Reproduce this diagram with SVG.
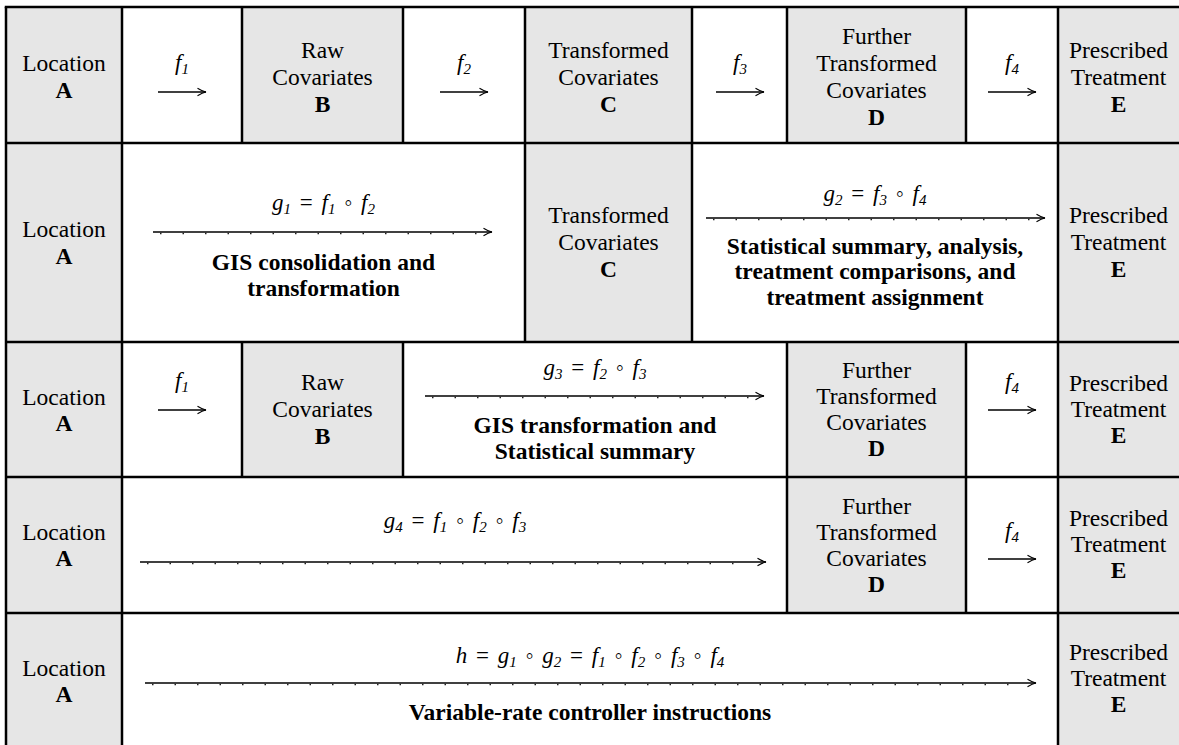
<svg xmlns="http://www.w3.org/2000/svg" width="1179" height="745" viewBox="0 0 1179 745">
<style>
.g{fill:#e6e6e6}
.w{fill:#fff}
.ln{stroke:#000;stroke-width:2.5;fill:none}
.t{font-family:'Liberation Serif','DejaVu Serif',serif;font-size:23.5px;text-anchor:middle;fill:#000}
.b{font-weight:bold}
.m{font-family:'Liberation Serif','DejaVu Serif',serif;font-size:23px;font-style:italic;text-anchor:middle;fill:#000;word-spacing:3px}
.s{font-size:15px}
.n{font-style:normal}
.ar{stroke:#000;stroke-width:1.3;fill:none;marker-end:url(#ah)}
.tk{stroke:#222;stroke-width:1.4;fill:none;stroke-dasharray:1.5 21}
</style>
<defs>
<marker id="ah" viewBox="0 0 10 10" refX="9.5" refY="5" markerWidth="10" markerHeight="10" markerUnits="userSpaceOnUse" orient="auto">
<path d="M1,1.2 Q6,4.3 9.5,5 Q6,5.7 1,8.8" fill="none" stroke="#000" stroke-width="1.1"/>
</marker>
</defs>
<rect x="0" y="0" width="1179" height="745" fill="#fff"/>

<!-- Row 1 -->
<g id="r1-A"><rect class="g" x="6" y="7" width="116" height="136"/><text class="t" x="64" y="71">Location</text><text class="t b" x="64" y="98">A</text></g>
<g id="r1-f1"><rect class="w" x="122" y="7" width="120" height="136"/></g>
<g id="r1-B"><rect class="g" x="242" y="7" width="161" height="136"/><text class="t" x="322.5" y="58">Raw</text><text class="t" x="322.5" y="85">Covariates</text><text class="t b" x="322.5" y="112">B</text></g>
<g id="r1-f2"><rect class="w" x="403" y="7" width="122" height="136"/></g>
<g id="r1-C"><rect class="g" x="525" y="7" width="167" height="136"/><text class="t" x="608.5" y="58">Transformed</text><text class="t" x="608.5" y="85">Covariates</text><text class="t b" x="608.5" y="112">C</text></g>
<g id="r1-f3"><rect class="w" x="692" y="7" width="95" height="136"/></g>
<g id="r1-D"><rect class="g" x="787" y="7" width="179" height="136"/><text class="t" x="876.5" y="44">Further</text><text class="t" x="876.5" y="71">Transformed</text><text class="t" x="876.5" y="98">Covariates</text><text class="t b" x="876.5" y="125">D</text></g>
<g id="r1-f4"><rect class="w" x="966" y="7" width="92" height="136"/></g>
<g id="r1-E"><rect class="g" x="1058" y="7" width="121" height="136"/><text class="t" x="1118.5" y="58">Prescribed</text><text class="t" x="1118.5" y="85">Treatment</text><text class="t b" x="1118.5" y="112">E</text></g>

<!-- Row 2 -->
<g id="r2-A"><rect class="g" x="6" y="143" width="116" height="199"/><text class="t" x="64" y="237">Location</text><text class="t b" x="64" y="264">A</text></g>
<g id="r2-g1"><rect class="w" x="122" y="143" width="403" height="199"/><text class="t b" x="323.5" y="270">GIS consolidation and</text><text class="t b" x="323.5" y="296">transformation</text></g>
<g id="r2-C"><rect class="g" x="525" y="143" width="167" height="199"/><text class="t" x="608.5" y="223">Transformed</text><text class="t" x="608.5" y="250">Covariates</text><text class="t b" x="608.5" y="277">C</text></g>
<g id="r2-g2"><rect class="w" x="692" y="143" width="366" height="199"/><text class="t b" x="875" y="254">Statistical summary, analysis,</text><text class="t b" x="875" y="279">treatment comparisons, and</text><text class="t b" x="875" y="305">treatment assignment</text></g>
<g id="r2-E"><rect class="g" x="1058" y="143" width="121" height="199"/><text class="t" x="1118.5" y="223">Prescribed</text><text class="t" x="1118.5" y="250">Treatment</text><text class="t b" x="1118.5" y="277">E</text></g>

<!-- Row 3 -->
<g id="r3-A"><rect class="g" x="6" y="342" width="116" height="135"/><text class="t" x="64" y="405">Location</text><text class="t b" x="64" y="431">A</text></g>
<g id="r3-f1"><rect class="w" x="122" y="342" width="120" height="135"/></g>
<g id="r3-B"><rect class="g" x="242" y="342" width="161" height="135"/><text class="t" x="322.5" y="390">Raw</text><text class="t" x="322.5" y="417">Covariates</text><text class="t b" x="322.5" y="444">B</text></g>
<g id="r3-g3"><rect class="w" x="403" y="342" width="384" height="135"/><text class="t b" x="595" y="433">GIS transformation and</text><text class="t b" x="595" y="459">Statistical summary</text></g>
<g id="r3-D"><rect class="g" x="787" y="342" width="179" height="135"/><text class="t" x="876.5" y="378">Further</text><text class="t" x="876.5" y="404">Transformed</text><text class="t" x="876.5" y="430">Covariates</text><text class="t b" x="876.5" y="456">D</text></g>
<g id="r3-f4"><rect class="w" x="966" y="342" width="92" height="135"/></g>
<g id="r3-E"><rect class="g" x="1058" y="342" width="121" height="135"/><text class="t" x="1118.5" y="391">Prescribed</text><text class="t" x="1118.5" y="417">Treatment</text><text class="t b" x="1118.5" y="443">E</text></g>

<!-- Row 4 -->
<g id="r4-A"><rect class="g" x="6" y="477" width="116" height="136"/><text class="t" x="64" y="540">Location</text><text class="t b" x="64" y="566">A</text></g>
<g id="r4-g4"><rect class="w" x="122" y="477" width="665" height="136"/></g>
<g id="r4-D"><rect class="g" x="787" y="477" width="179" height="136"/><text class="t" x="876.5" y="514">Further</text><text class="t" x="876.5" y="540">Transformed</text><text class="t" x="876.5" y="566">Covariates</text><text class="t b" x="876.5" y="592">D</text></g>
<g id="r4-f4"><rect class="w" x="966" y="477" width="92" height="136"/></g>
<g id="r4-E"><rect class="g" x="1058" y="477" width="121" height="136"/><text class="t" x="1118.5" y="526">Prescribed</text><text class="t" x="1118.5" y="552">Treatment</text><text class="t b" x="1118.5" y="578">E</text></g>

<!-- Row 5 -->
<g id="r5-A"><rect class="g" x="6" y="613" width="116" height="132"/><text class="t" x="64" y="676">Location</text><text class="t b" x="64" y="702">A</text></g>
<g id="r5-h"><rect class="w" x="122" y="613" width="936" height="132"/><text class="t b" x="590" y="720">Variable-rate controller instructions</text></g>
<g id="r5-E"><rect class="g" x="1058" y="613" width="121" height="132"/><text class="t" x="1118.5" y="660">Prescribed</text><text class="t" x="1118.5" y="686">Treatment</text><text class="t b" x="1118.5" y="712">E</text></g>

<!-- grid -->
<g id="grid" class="ln">
<line x1="4.75" y1="7" x2="1179" y2="7"/>
<line x1="6" y1="143" x2="1179" y2="143"/>
<line x1="6" y1="342" x2="1179" y2="342"/>
<line x1="6" y1="477" x2="1179" y2="477"/>
<line x1="6" y1="613" x2="1179" y2="613"/>
<line x1="6" y1="7" x2="6" y2="745"/>
<line x1="122" y1="7" x2="122" y2="745"/>
<line x1="1058" y1="7" x2="1058" y2="745"/>
<line x1="242" y1="7" x2="242" y2="143"/>
<line x1="403" y1="7" x2="403" y2="143"/>
<line x1="242" y1="342" x2="242" y2="477"/>
<line x1="403" y1="342" x2="403" y2="477"/>
<line x1="525" y1="7" x2="525" y2="342"/>
<line x1="692" y1="7" x2="692" y2="342"/>
<line x1="787" y1="7" x2="787" y2="143"/>
<line x1="966" y1="7" x2="966" y2="143"/>
<line x1="787" y1="342" x2="787" y2="613"/>
<line x1="966" y1="342" x2="966" y2="613"/>
</g>

<!-- connectors -->
<g id="connectors">
<!-- short arrows -->
<line class="ar" x1="158" y1="92" x2="206" y2="92"/>
<text class="m" x="182" y="70">f<tspan class="s" dy="4">1</tspan></text>
<line class="ar" x1="440" y1="92" x2="488" y2="92"/>
<text class="m" x="464" y="70">f<tspan class="s" dy="4">2</tspan></text>
<line class="ar" x1="716" y1="92" x2="764" y2="92"/>
<text class="m" x="740" y="70">f<tspan class="s" dy="4">3</tspan></text>
<line class="ar" x1="988" y1="92" x2="1036" y2="92"/>
<text class="m" x="1012" y="70">f<tspan class="s" dy="4">4</tspan></text>

<line class="ar" x1="158" y1="410" x2="206" y2="410"/>
<text class="m" x="182" y="388">f<tspan class="s" dy="4">1</tspan></text>
<line class="ar" x1="988" y1="410" x2="1036" y2="410"/>
<text class="m" x="1012" y="389">f<tspan class="s" dy="4">4</tspan></text>
<line class="ar" x1="988" y1="559" x2="1036" y2="559"/>
<text class="m" x="1012" y="538">f<tspan class="s" dy="4">4</tspan></text>

<!-- long arrows -->
<line class="ar" x1="153" y1="232" x2="492" y2="232"/>
<line class="tk" x1="160" y1="233.5" x2="480" y2="233.5"/>
<text class="m" x="323.5" y="210">g<tspan class="s" dy="4">1</tspan><tspan class="n" dy="-4"> = </tspan>f<tspan class="s" dy="4">1</tspan><tspan class="n" dy="-4"> ◦ </tspan>f<tspan class="s" dy="4">2</tspan></text>

<line class="ar" x1="706" y1="218" x2="1045" y2="218"/>
<line class="tk" x1="713" y1="219.5" x2="1033" y2="219.5"/>
<text class="m" x="875" y="201">g<tspan class="s" dy="4">2</tspan><tspan class="n" dy="-4"> = </tspan>f<tspan class="s" dy="4">3</tspan><tspan class="n" dy="-4"> ◦ </tspan>f<tspan class="s" dy="4">4</tspan></text>

<line class="ar" x1="425" y1="396" x2="764" y2="396"/>
<line class="tk" x1="432" y1="397.5" x2="752" y2="397.5"/>
<text class="m" x="595" y="375">g<tspan class="s" dy="4">3</tspan><tspan class="n" dy="-4"> = </tspan>f<tspan class="s" dy="4">2</tspan><tspan class="n" dy="-4"> ◦ </tspan>f<tspan class="s" dy="4">3</tspan></text>

<line class="ar" x1="140" y1="562" x2="766" y2="562"/>
<line class="tk" x1="147" y1="563.5" x2="754" y2="563.5"/>
<text class="m" x="455" y="528">g<tspan class="s" dy="4">4</tspan><tspan class="n" dy="-4"> = </tspan>f<tspan class="s" dy="4">1</tspan><tspan class="n" dy="-4"> ◦ </tspan>f<tspan class="s" dy="4">2</tspan><tspan class="n" dy="-4"> ◦ </tspan>f<tspan class="s" dy="4">3</tspan></text>

<line class="ar" x1="145" y1="683" x2="1036" y2="683"/>
<line class="tk" x1="152" y1="684.5" x2="1024" y2="684.5"/>
<text class="m" x="590" y="663">h<tspan class="n"> = </tspan>g<tspan class="s" dy="4">1</tspan><tspan class="n" dy="-4"> ◦ </tspan>g<tspan class="s" dy="4">2</tspan><tspan class="n" dy="-4"> = </tspan>f<tspan class="s" dy="4">1</tspan><tspan class="n" dy="-4"> ◦ </tspan>f<tspan class="s" dy="4">2</tspan><tspan class="n" dy="-4"> ◦ </tspan>f<tspan class="s" dy="4">3</tspan><tspan class="n" dy="-4"> ◦ </tspan>f<tspan class="s" dy="4">4</tspan></text>
</g>
</svg>
